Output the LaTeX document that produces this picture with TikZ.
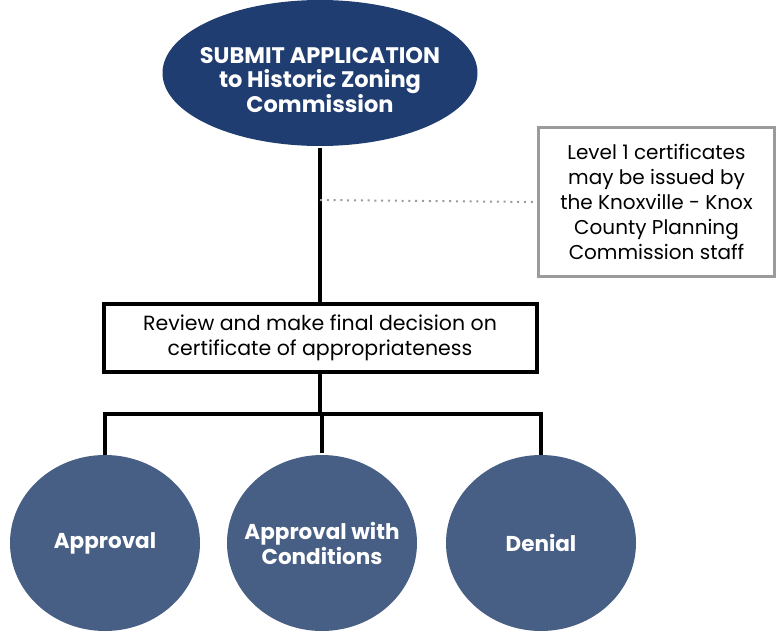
\documentclass[tikz,border=0pt]{standalone}
\usepackage{fontspec}
\setmainfont{Poppins}
\usepackage{tikz}
\usetikzlibrary{shapes.geometric}
\definecolor{navy}{RGB}{31,61,112}
\definecolor{slate}{RGB}{72,95,133}
\definecolor{boxgray}{RGB}{155,155,155}
\begin{document}
\begin{tikzpicture}[x=1pt,y=-1pt,line width=3.8pt,every node/.style={align=center,inner sep=0pt},
  oval/.style={ellipse,fill=#1,minimum width=190pt,minimum height=176pt},
  wtxt/.style={text=white,font=\bfseries\fontsize{21.5}{25}\selectfont},
  txt/.style={font=\fontsize{20}{25}\selectfont}]
\useasboundingbox (0,0) rectangle (776,634);
\node[oval=navy,minimum width=315pt,minimum height=146pt] (sub) at (320,73) {};
\node[wtxt,font=\bfseries\fontsize{22.5}{24}\selectfont] (subt) at (320,80) {SUBMIT APPLICATION\\to Historic Zoning\\Commission};
\node[draw=boxgray,line width=3.5pt,txt,minimum width=236pt,minimum height=149pt] (lvl) at (656.5,202) {Level 1 certificates\\may be issued by\\the Knoxville - Knox\\County Planning\\Commission staff};
\node[draw,line width=4pt,txt,font=\fontsize{20.5}{25}\selectfont,minimum width=433pt,minimum height=68pt] (rev) at (320,337.5) {Review and make final decision on\\certificate of appropriateness};
\node[oval=slate] (a) at (105,543) {};\node[wtxt] (at) at (a) {Approval};
\node[oval=slate] (b) at (322,543) {};\node[wtxt] (bt) at (b) {Approval with\\Conditions};
\node[oval=slate] (c) at (541,543) {};\node[wtxt] (ct) at (c) {Denial};
\coordinate (d) at (320,200);\coordinate (j) at (320,414);
\draw (sub.south) -- (rev.north);
\draw[boxgray,line width=2pt,dash pattern=on 2pt off 4.8pt] (d) -- (lvl.west);
\draw (rev.south) -- (j);
\draw[line cap=rect] (a.north) |- (j) -| (c.north);
\draw (j) -| (b.north);
\end{tikzpicture}
\end{document}
